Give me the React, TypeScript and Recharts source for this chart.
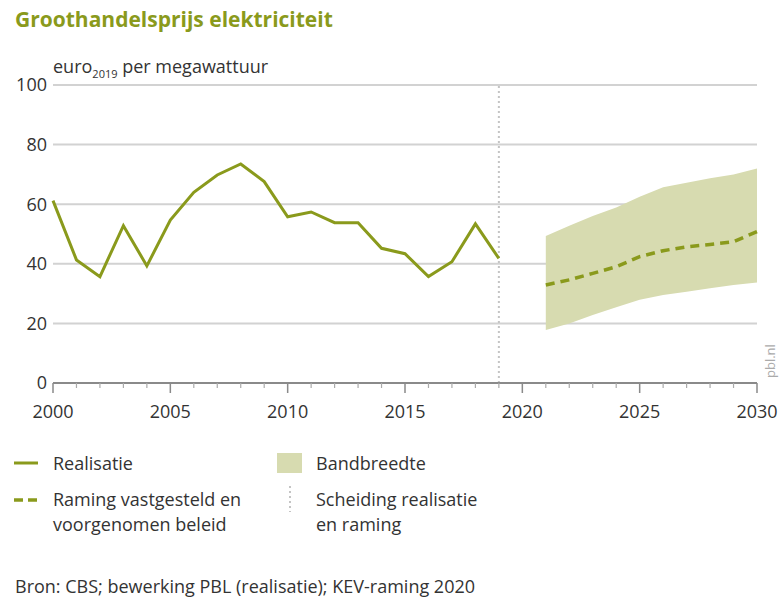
import React from 'react'
import {
  ComposedChart, Line, Area, XAxis, YAxis, CartesianGrid, ReferenceLine,
} from 'recharts'

const OLIVE = '#8a9a1c'
const BAND = '#d7dbb0'
const GRID = '#d2d2d2'
const AXIS = '#8a8a8a'
const TEXT = '#333'
const FONT = '"Open Sans", sans-serif'

const years = Array.from({ length: 31 }, (_, i) => 2000 + i)

// realisatie 2000-2019
const realisatie = [
  61.2, 41.3, 35.7, 52.8, 39.3, 54.7, 64.0, 69.8, 73.5, 67.6,
  55.8, 57.4, 53.8, 53.8, 45.2, 43.4, 35.7, 40.7, 53.4, 41.8,
]

// raming 2021-2030
const ramingYears = [2021, 2022, 2023, 2024, 2025, 2026, 2027, 2028, 2029, 2030]
const raming = [32.9, 34.6, 36.8, 39.0, 42.4, 44.4, 45.7, 46.5, 47.4, 50.8]
const bandLow = [17.8, 20.0, 22.8, 25.4, 27.9, 29.5, 30.6, 31.8, 32.9, 33.7]
const bandHigh = [49.3, 52.8, 56.0, 58.9, 62.5, 65.7, 67.2, 68.7, 70.0, 72.0]

const yTicks = [0, 20, 40, 60, 80, 100]
const xLabels = [2000, 2005, 2010, 2015, 2020, 2025, 2030]

const data = years.map((year, i) => {
  const r = ramingYears.indexOf(year)
  return {
    year,
    realisatie: i < realisatie.length ? realisatie[i] : null,
    raming: r >= 0 ? raming[r] : null,
    band: r >= 0 ? [bandLow[r], bandHigh[r]] : null,
  }
})

function YearTick(props: any) {
  const { x, y, payload } = props
  const major = xLabels.includes(payload.value)
  return (
    <g>
      <line x1={x} x2={x} y1={y} y2={y + (major ? 10 : 5)} stroke={major ? AXIS : '#aaa'} strokeWidth={major ? 1.5 : 1.2} />
      {major && (
        <text x={x} y={y + 35} textAnchor="middle" fontSize={18} fill={TEXT} fontFamily={FONT}>
          {payload.value}
        </text>
      )}
    </g>
  )
}

export default function App() {
  return (
    <div style={{ position: 'absolute', left: 0, top: 0, width: 779, height: 601, background: '#fff', fontFamily: FONT, color: TEXT }}>
      <div style={{ position: 'absolute', left: 15, top: 5, fontSize: 21, fontWeight: 700, color: OLIVE, lineHeight: '29px' }}>
        Groothandelsprijs elektriciteit
      </div>
      <div style={{ position: 'absolute', left: 53, top: 53, fontSize: 18, lineHeight: '26px' }}>
        euro<sub style={{ fontSize: 11 }}>2019</sub> per megawattuur
      </div>

      <div style={{ position: 'absolute', left: 0, top: 0 }}>
        <ComposedChart width={779} height={430} data={data} margin={{ top: 85, right: 22, bottom: 0, left: 0 }}>
          <CartesianGrid vertical={false} stroke={GRID} strokeWidth={2} />
          <XAxis
            dataKey="year"
            type="number"
            domain={[2000, 2030]}
            ticks={years}
            interval={0}
            height={47}
            tickLine={false}
            tickSize={0}
            tickMargin={0}
            axisLine={{ stroke: AXIS, strokeWidth: 2 }}
            tick={<YearTick />}
          />
          <YAxis
            type="number"
            domain={[0, 100]}
            ticks={yTicks}
            width={53}
            axisLine={false}
            tickLine={false}
            tickSize={0}
            tickMargin={6}
            tick={{ fontSize: 18, fill: TEXT, fontFamily: FONT }}
          />
          <Area dataKey="band" stroke="none" fill={BAND} fillOpacity={1} isAnimationActive={false} connectNulls={false} />
          <ReferenceLine x={2019} stroke="#c4c4c4" strokeWidth={2} strokeDasharray="2 3" />
          <Line dataKey="realisatie" stroke={OLIVE} strokeWidth={3} dot={false} isAnimationActive={false} connectNulls={false} />
          <Line dataKey="raming" stroke={OLIVE} strokeWidth={3.5} strokeDasharray="9 6" dot={false} isAnimationActive={false} connectNulls={false} />
        </ComposedChart>
      </div>

      <div style={{ position: 'absolute', left: 761, top: 378, transform: 'rotate(-90deg)', transformOrigin: 'left top', fontSize: 13, color: '#aaa' }}>
        pbl.nl
      </div>

      {/* legend */}
      <svg style={{ position: 'absolute', left: 0, top: 440 }} width={320} height={90}>
        <line x1={14} x2={38} y1={23} y2={23} stroke={OLIVE} strokeWidth={3} />
        <line x1={14} x2={38} y1={60} y2={60} stroke={OLIVE} strokeWidth={3.5} strokeDasharray="9 5" />
        <rect x={277} y={13} width={25} height={20} fill={BAND} />
        <line x1={290} x2={290} y1={46} y2={72} stroke="#c4c4c4" strokeWidth={2} strokeDasharray="2 3" />
      </svg>
      <div style={{ position: 'absolute', left: 53, top: 451, fontSize: 18, lineHeight: '25px' }}>Realisatie</div>
      <div style={{ position: 'absolute', left: 53, top: 487, fontSize: 18, lineHeight: '25px' }}>
        Raming vastgesteld en<br />voorgenomen beleid
      </div>
      <div style={{ position: 'absolute', left: 316, top: 451, fontSize: 18, lineHeight: '25px' }}>Bandbreedte</div>
      <div style={{ position: 'absolute', left: 316, top: 487, fontSize: 18, lineHeight: '25px' }}>
        Scheiding realisatie<br />en raming
      </div>
      <div style={{ position: 'absolute', left: 15, top: 574, fontSize: 18, lineHeight: '25px' }}>
        Bron: CBS; bewerking PBL (realisatie); KEV-raming 2020
      </div>
    </div>
  )
}
